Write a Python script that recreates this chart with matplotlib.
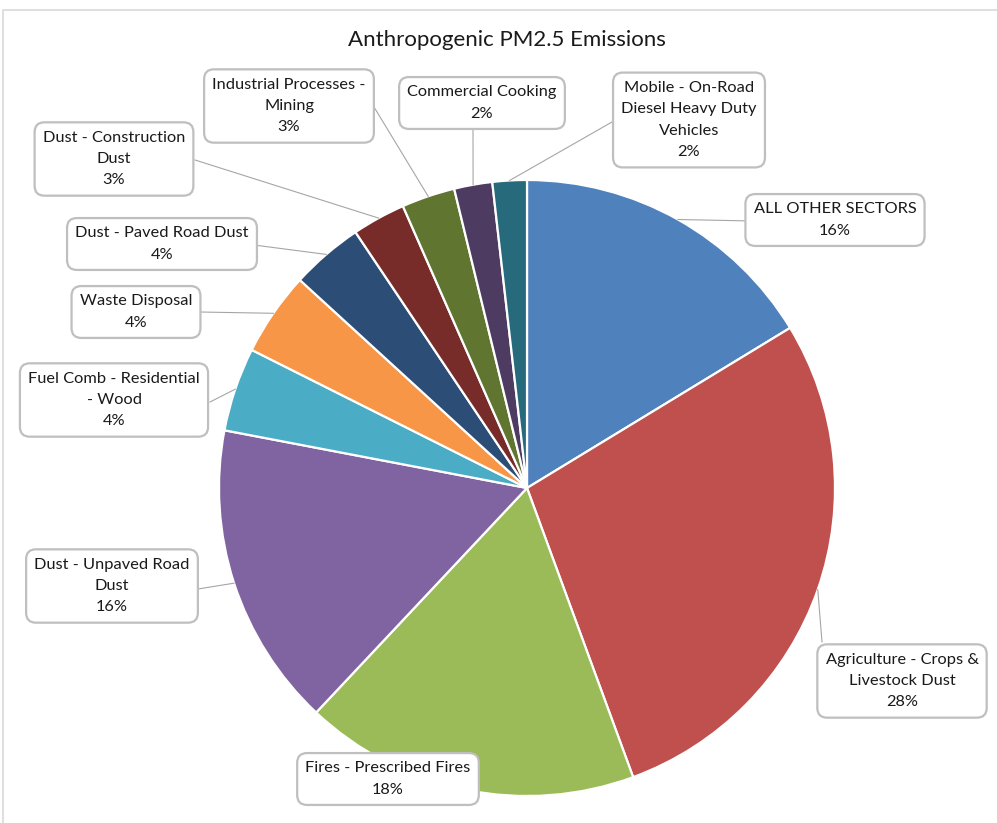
import numpy as np
import matplotlib.pyplot as plt
from matplotlib.patches import Rectangle

plt.rcParams['font.family'] = ['Lato', 'DejaVu Sans']

# data (share of total, %)
categories = [
    "ALL OTHER SECTORS",
    "Agriculture - Crops &\nLivestock Dust",
    "Fires - Prescribed Fires",
    "Dust - Unpaved Road\nDust",
    "Fuel Comb - Residential\n- Wood",
    "Waste Disposal",
    "Dust - Paved Road Dust",
    "Dust - Construction\nDust",
    "Industrial Processes -\nMining",
    "Commercial Cooking",
    "Mobile - On-Road\nDiesel Heavy Duty\nVehicles",
]
shares = [16.3, 28.1, 17.6, 16.0, 4.4, 4.4, 3.8, 2.8, 2.8, 2.0, 1.8]
colors = ["#4F81BD", "#C0504D", "#9BBB59", "#8064A2", "#4BACC6", "#F79646",
          "#2C4D75", "#772C2A", "#5F7530", "#4D3B62", "#276A7C"]

# layout in pixels (top-left origin): label box centres and where the leader meets the box
box_centres = [(835, 220), (902, 681), (388, 779), (112, 586), (114, 400), (136, 312),
               (162, 244), (114, 159), (289, 106), (482, 103), (689, 120)]
leader_ends = [(753, 221), (822, 642), None, (198, 589), (210, 402), (199, 312),
               (254, 245), (195, 160), (374, 107), (473, 130), (612, 122)]

W, H = 997, 823
fig = plt.figure(figsize=(W / 100, H / 100), dpi=100)
ax = fig.add_axes([0, 0, 1, 1])

def flip(p):
    return (p[0], H - p[1])

cx, cy = flip((527, 488))
R = 308
wedges, _ = ax.pie(shares, colors=colors, startangle=90, counterclock=False,
                   center=(cx, cy), radius=R,
                   wedgeprops=dict(edgecolor="white", linewidth=1.6))

total = sum(shares)
for w, name, v, bc, le in zip(wedges, categories, shares, box_centres, leader_ends):
    mid = np.deg2rad((w.theta1 + w.theta2) / 2)
    edge = (cx + R * np.cos(mid), cy + R * np.sin(mid))
    if le is not None:
        ex, ey = flip(le)
        ax.plot([edge[0], ex], [edge[1], ey], color="#A6A6A6", lw=0.8, zorder=1)
    bx, by = flip(bc)
    ax.text(bx, by, f"{name}\n{round(v / total * 100)}%", ha="center", va="center",
            fontsize=11.8, color="#1a1a1a", linespacing=1.68, zorder=5,
            bbox=dict(boxstyle="round,pad=0.5,rounding_size=0.6", fc="white",
                      ec="#BFBFBF", lw=1.6))

ax.set_xlim(0, W)
ax.set_ylim(0, H)
ax.set_aspect("equal")
ax.axis("off")

# chart area border
fig.patches.append(Rectangle((3 / W, -0.01), 1.0, 1 - 10 / H + 0.01, transform=fig.transFigure,
                             fill=False, ec="#D9D9D9", lw=1.2))

fig.text(507 / W, 1 - 40 / H, "Anthropogenic PM2.5 Emissions", ha="center", va="center",
         fontsize=16, color="#1a1a1a")

fig.savefig("out.png", dpi=100, facecolor="white")
